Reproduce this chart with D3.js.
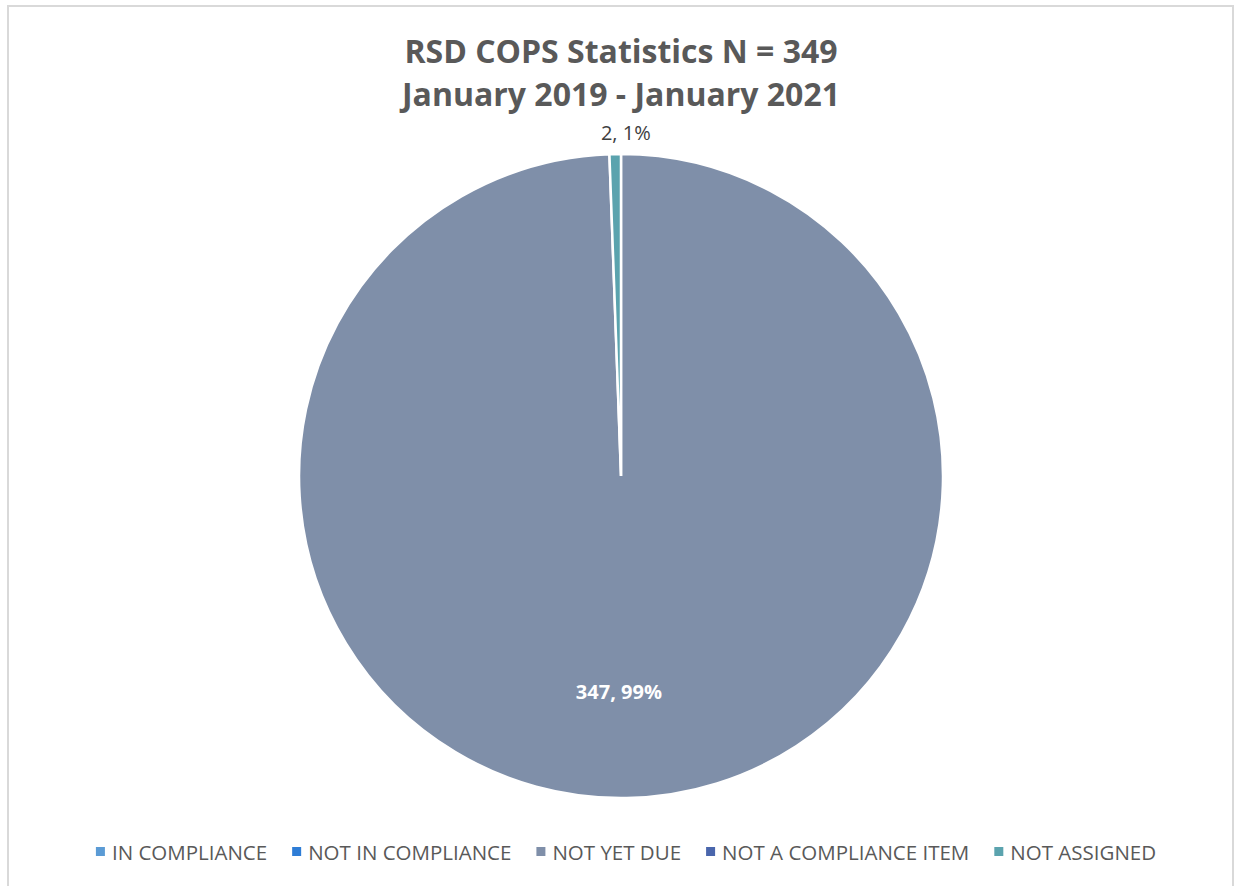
<!doctype html>
<html lang="en">
<head>
    <meta charset="UTF-8">
    <title>RSD COPS Statistics</title>
    <style>
        body { margin: 0; background: #fff; }
        text { font-family: "Open Sans", "Liberation Sans", sans-serif; }
    </style>
</head>
<body>
<script src="https://cdn.jsdelivr.net/npm/d3@7"></script>
<script>

    const categories = ['IN COMPLIANCE', 'NOT IN COMPLIANCE', 'NOT YET DUE', 'NOT A COMPLIANCE ITEM', 'NOT ASSIGNED']
    const counts = [0, 0, 347, 0, 2]
    const colours = ['#5B9BD5', '#2E7DD6', '#7F8FA9', '#4A66AC', '#5BA3AE']
    const titleLines = ['RSD COPS Statistics N = 349', 'January 2019 - January 2021']

    const width = 1235
    const height = 886
    const cx = 621, cy = 476, radius = 322

    const svg = d3.select('body')
        .append('svg')
        .attr('width', width)
        .attr('height', height)

    // chart frame
    svg.append('rect')
        .attr('x', 8)
        .attr('y', 6)
        .attr('width', 1225)
        .attr('height', 886)
        .attr('fill', 'none')
        .attr('stroke', '#d9d9d9')
        .attr('stroke-width', 2)

    // title
    svg.selectAll('.title')
        .data(titleLines)
        .enter()
        .append('text')
        .attr('class', 'title')
        .attr('x', cx)
        .attr('y', (d, i) => 63 + i * 43)
        .attr('text-anchor', 'middle')
        .attr('font-size', 32)
        .attr('font-weight', 'bold')
        .attr('fill', '#595959')
        .text(d => d)

    const data = categories.map((c, i) => ({name: c, value: counts[i], colour: colours[i]}))
    const total = d3.sum(counts)

    const pie = d3.pie().sort(null).value(d => d.value)
    const arcs = pie(data)

    const arc = d3.arc().innerRadius(0).outerRadius(radius)
    const insideArc = d3.arc().innerRadius(radius * 0.67).outerRadius(radius * 0.67)
    const outsideArc = d3.arc().innerRadius(radius + 21).outerRadius(radius + 21)

    const g = svg.append('g')
        .attr('transform', `translate(${cx}, ${cy})`)

    g.selectAll('path')
        .data(arcs.filter(d => d.value > 0))
        .enter()
        .append('path')
        .attr('d', arc)
        .attr('fill', d => d.data.colour)
        .attr('stroke', '#fff')
        .attr('stroke-width', 2.5)

    // data labels
    g.selectAll('.label')
        .data(arcs.filter(d => d.value > 0))
        .enter()
        .append('text')
        .attr('class', 'label')
        .attr('transform', d => {
            const big = d.value / total > 0.5
            const [x, y] = big ? insideArc.centroid(d) : outsideArc.centroid(d)
            return `translate(${big ? x - 6 : x + 11}, ${y})`
        })
        .attr('dy', '0.35em')
        .attr('text-anchor', 'middle')
        .attr('font-size', 20)
        .attr('font-weight', d => d.value / total > 0.5 ? 'bold' : 'normal')
        .attr('fill', d => d.value / total > 0.5 ? '#fff' : '#404040')
        .text(d => `${d.value}, ${Math.round(d.value / total * 100)}%`)

    // legend
    const legend = svg.append('g')
    const items = legend.selectAll('.item')
        .data(data)
        .enter()
        .append('g')
        .attr('class', 'item')

    items.append('rect')
        .attr('width', 9)
        .attr('height', 9)
        .attr('y', -13)
        .attr('fill', d => d.colour)

    items.append('text')
        .attr('x', 16)
        .attr('font-size', 20.5)
        .attr('fill', '#595959')
        .text(d => d.name)

    let xPos = 0
    items.each(function () {
        const w = d3.select(this).select('text').node().getComputedTextLength()
        d3.select(this).attr('transform', `translate(${xPos}, 0)`)
        xPos += 16 + w + 25
    })
    const legendWidth = xPos - 25
    legend.attr('transform', `translate(${cx + 5 - legendWidth / 2}, 860)`)

</script>
</body>
</html>
